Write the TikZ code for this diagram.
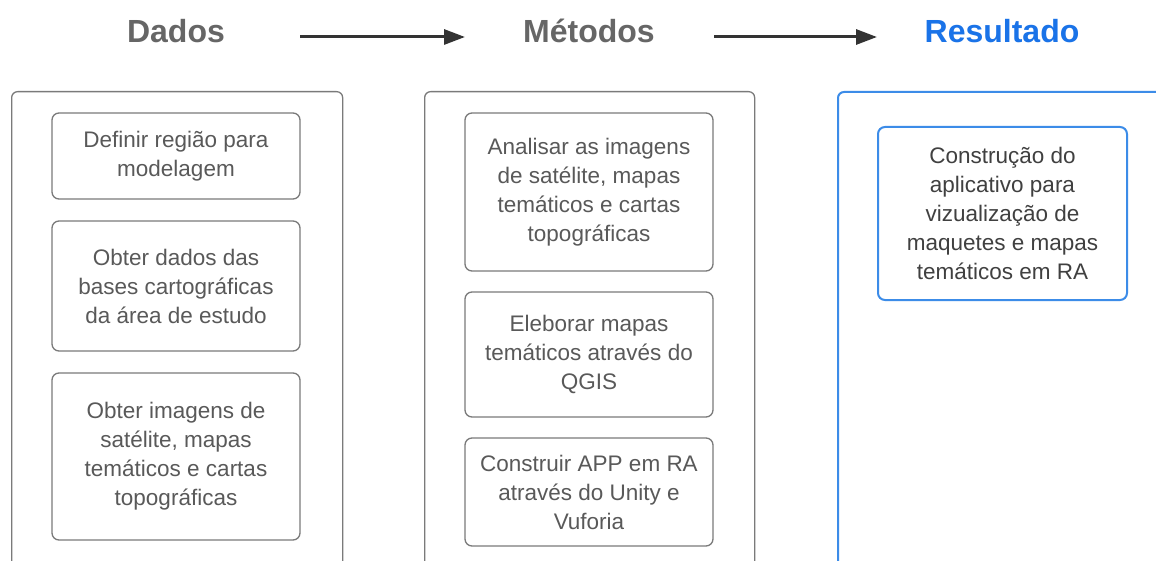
\documentclass[tikz,border=0pt]{standalone}
\usepackage{fontspec}
\setmainfont{Liberation Sans}
\usetikzlibrary{arrows.meta}
\definecolor{hdrgray}{HTML}{666666}
\definecolor{hdrblue}{HTML}{1A73E8}
\definecolor{txtgray}{HTML}{595959}
\definecolor{txtdark}{HTML}{404040}
\definecolor{boxgray}{HTML}{7A7A7A}
\definecolor{panelblue}{HTML}{3C8CE8}
\definecolor{arrowdark}{HTML}{333333}
\tikzset{
  header/.style={font=\fontsize{32}{36}\selectfont\bfseries, anchor=base, inner sep=0pt},
  panel/.style={draw=boxgray, line width=1.3pt, rounded corners=6pt, anchor=north west, inner sep=0pt},
  bluepanel/.style={panel, draw=panelblue, line width=2pt},
  stepbox/.style={draw=boxgray, line width=1.3pt, rounded corners=7pt, minimum width=248pt,
    text=txtgray, align=center, font=\fontsize{22.5}{29}\selectfont, inner sep=0pt},
  resbox/.style={stepbox, draw=panelblue, line width=2pt, text=txtdark},
  flow/.style={draw=arrowdark, line width=3pt, -{Triangle[length=21pt,width=15pt]}}
}
\begin{document}
\begin{tikzpicture}[x=1pt,y=-1pt]
\useasboundingbox (0,0) rectangle (1156,561);
\clip (0,0) rectangle (1156,561);
\fill[white] (0,0) rectangle (1156,561);
% headers
\node[header, text=hdrgray] (dados) at (176,43) {Dados};
\node[header, text=hdrgray] (metodos) at (589,43) {Métodos};
\node[header, text=hdrblue] (resultado) at (1002,43) {Resultado};
\coordinate (a1s) at (300,37);
\coordinate (a1e) at (465,37);
\coordinate (a2s) at (714,37);
\coordinate (a2e) at (877,37);
\draw[flow] (a1s) -- (a1e);
\draw[flow] (a2s) -- (a2e);
% panels
\node[panel, minimum width=331pt, minimum height=500pt] (pdados) at (11,91) {};
\node[panel, minimum width=330pt, minimum height=500pt] (pmetodos) at (424,91) {};
\node[bluepanel, minimum width=350pt, minimum height=500pt] (presultado) at (837,91) {};
% Dados boxes
\node[stepbox, minimum height=86pt] (d1) at (176,156) {Definir região para\\modelagem};
\node[stepbox, minimum height=130pt] (d2) at (176,286) {Obter dados das\\bases cartográficas\\da área de estudo};
\node[stepbox, minimum height=167pt] (d3) at (176,456.5) {Obter imagens de\\satélite, mapas\\temáticos e cartas\\topográficas};
% Metodos boxes
\node[stepbox, minimum height=158pt] (m1) at (589,192) {Analisar as imagens\\de satélite, mapas\\temáticos e cartas\\topográficas};
\node[stepbox, minimum height=125pt] (m2) at (589,354.5) {Eleborar mapas\\temáticos através do\\QGIS};
\node[stepbox, minimum height=108pt] (m3) at (589,492) {Construir APP em RA\\através do Unity e\\Vuforia};
% Resultado box
\node[resbox, minimum width=249pt, minimum height=173pt] (r1) at (1002.5,213.5) {Construção do\\aplicativo para\\vizualização de\\maquetes e mapas\\temáticos em RA};
\end{tikzpicture}
\end{document}
